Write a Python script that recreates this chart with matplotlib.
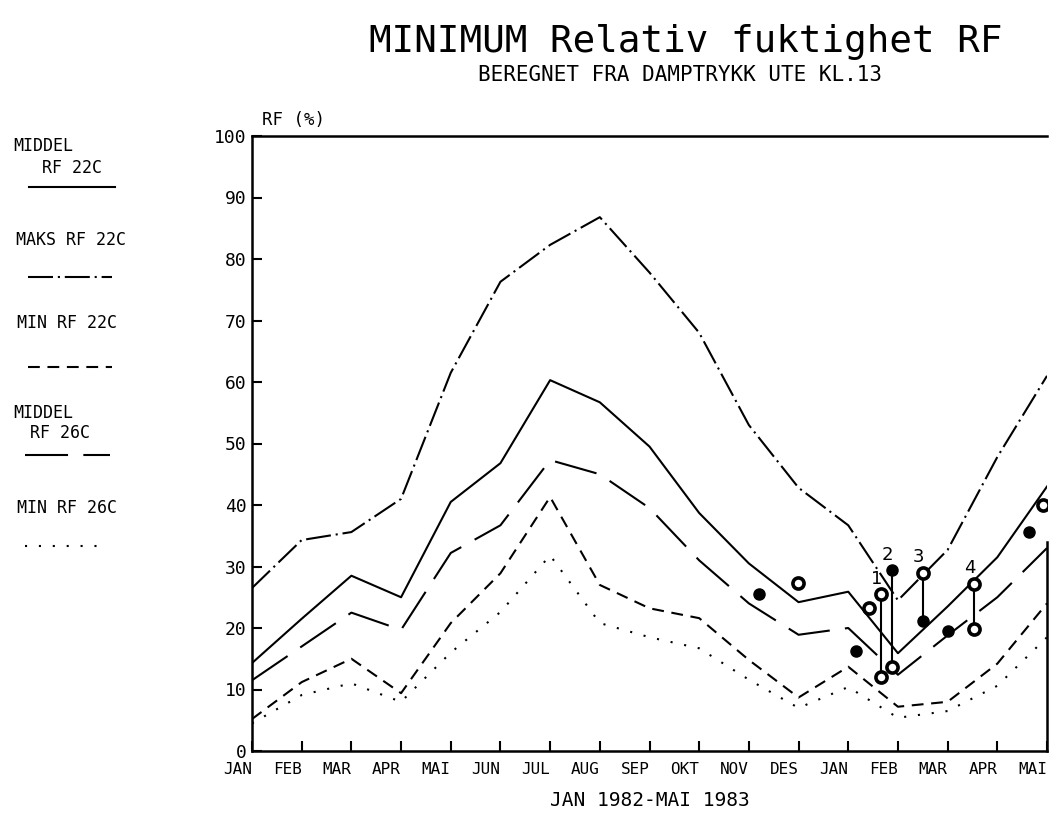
import matplotlib
matplotlib.use('Agg')
import matplotlib.pyplot as plt
from matplotlib.lines import Line2D

plt.rcParams['font.family'] = ['DejaVu Sans Mono']
plt.rcParams['lines.scale_dashes'] = False

# months along the x axis, JAN 1982 - MAI 1983
months = ['JAN', 'FEB', 'MAR', 'APR', 'MAI', 'JUN', 'JUL', 'AUG', 'SEP',
          'OKT', 'NOV', 'DES', 'JAN', 'FEB', 'MAR', 'APR', 'MAI']

# monthly curves (RF %)
mid22 = [14.3, 21.5, 28.5, 25.0, 40.5, 46.8, 60.3, 56.7, 49.5, 38.7, 30.5, 24.2, 25.9, 15.9, 23.5, 31.5, 43.0]
maks22 = [26.5, 34.3, 35.6, 41.0, 61.5, 76.3, 82.3, 86.8, 77.8, 68.0, 53.0, 42.8, 36.7, 24.5, 32.7, 47.8, 61.0]
min22 = [5.2, 11.2, 15.0, 9.4, 20.8, 28.9, 41.3, 27.0, 23.2, 21.6, 14.8, 8.7, 13.7, 7.2, 8.0, 14.2, 24.0]
mid26 = [11.5, 17.0, 22.5, 19.7, 32.2, 36.7, 47.3, 45.0, 39.5, 31.0, 24.0, 18.9, 20.0, 12.4, 18.8, 25.0, 33.0]
min26 = [4.5, 9.1, 11.0, 8.0, 16.0, 22.6, 31.8, 20.8, 18.5, 16.7, 11.6, 7.0, 10.4, 5.4, 6.5, 10.6, 18.5]

# single measurements (x in months from JAN 1982)
filled_x = [10.20, 12.15, 14.00, 15.63]
filled_y = [25.5, 16.3, 19.5, 35.6]
open_x = [10.99, 12.41, 15.92]
open_y = [27.3, 23.2, 40.0]

# numbered pairs joined by a vertical line
pair_labels = ['1', '2', '3', '4']
pair_x = [12.66, 12.88, 13.50, 14.53]
pair_top = [25.5, 29.4, 29.0, 27.2]
pair_bot = [12.0, 13.7, 21.1, 19.8]
pair_top_filled = [False, True, False, False]
pair_bot_filled = [False, False, True, False]

W, H = 1049, 815


def px(x, y):
    return x / W, 1 - y / H


lw = 1.5
styles = {
    'mid22': dict(linestyle='-'),
    'maks22': dict(dashes=(18, 3.5, 1.5, 3.5)),
    'min22': dict(dashes=(8.5, 5.5)),
    'mid26': dict(dashes=(31, 11)),
    'min26': dict(dashes=(1.5, 8.5)),
}

fig = plt.figure(figsize=(W / 100, H / 100), dpi=100)
ax = fig.add_axes([252 / W, 64 / H, 795 / W, 615 / H])

x = list(range(len(months)))
ax.plot(x, mid22, color='black', lw=lw, **styles['mid22'])
ax.plot(x, maks22, color='black', lw=lw, **styles['maks22'])
ax.plot(x, min22, color='black', lw=lw, **styles['min22'])
ax.plot(x, mid26, color='black', lw=lw, **styles['mid26'])
ax.plot(x, min26, color='black', lw=lw, **styles['min26'])

ax.vlines(pair_x, pair_bot, pair_top, color='black', lw=1.5, zorder=3)
mk = dict(marker='o', ms=8, linestyle='none', zorder=4)
ax.plot(filled_x, filled_y, color='black', **mk)
ax.plot(open_x, open_y, mfc='white', mec='black', mew=2.6, **mk)
for i in range(len(pair_x)):
    for yy, f in [(pair_top[i], pair_top_filled[i]), (pair_bot[i], pair_bot_filled[i])]:
        if f:
            ax.plot([pair_x[i]], [yy], color='black', **mk)
        else:
            ax.plot([pair_x[i]], [yy], mfc='white', mec='black', mew=2.6, **mk)
    ax.annotate(pair_labels[i], (pair_x[i], pair_top[i]), xytext=(-3, 11),
                textcoords='offset points', ha='center', va='center',
                fontsize=13, family='DejaVu Sans')

ax.set_xlim(0, 16)
ax.set_ylim(0, 100)
ax.set_xticks(x)
ax.set_xticklabels(months, ha='right')
ax.set_yticks(range(0, 101, 10))
ax.tick_params(direction='in', length=7, width=1.5)
ax.tick_params(axis='x', labelsize=11.5, pad=8)
ax.tick_params(axis='y', labelsize=13, pad=4)
for s in ['left', 'bottom', 'top', 'right']:
    ax.spines[s].set_linewidth(1.8)
ax.spines['right'].set_bounds(0, 34)
ax.set_xlabel('JAN 1982-MAI 1983', fontsize=14, labelpad=10)

fig.text(*px(262, 120), 'RF (%)', fontsize=12.5, va='center')

fig.text(*px(686, 42), 'MINIMUM Relativ fuktighet RF', fontsize=27, ha='center', va='center')
fig.text(*px(680, 75), 'BEREGNET FRA DAMPTRYKK UTE KL.13', fontsize=15, ha='center', va='center')

# legend drawn by hand at the left side
leg_fs = 12
fig.text(*px(13, 146), 'MIDDEL', fontsize=leg_fs, va='center')
fig.text(*px(42, 168), 'RF 22C', fontsize=leg_fs, va='center')
fig.text(*px(16, 240), 'MAKS RF 22C', fontsize=leg_fs, va='center')
fig.text(*px(17, 323), 'MIN RF 22C', fontsize=leg_fs, va='center')
fig.text(*px(13, 413), 'MIDDEL', fontsize=leg_fs, va='center')
fig.text(*px(30, 433), 'RF 26C', fontsize=leg_fs, va='center')
fig.text(*px(17, 508), 'MIN RF 26C', fontsize=leg_fs, va='center')

leg_lines = [('mid22', 29, 115, 187), ('maks22', 28, 112, 277), ('min22', 28, 112, 367),
             ('mid26', 25, 110, 455), ('min26', 25, 102, 546)]
for key, x0, x1, yy in leg_lines:
    a, b = px(x0, yy)
    c, d = px(x1, yy)
    fig.add_artist(Line2D([a, c], [b, d], transform=fig.transFigure, color='black', lw=lw, **styles[key]))

fig.savefig('out.png', dpi=100)
